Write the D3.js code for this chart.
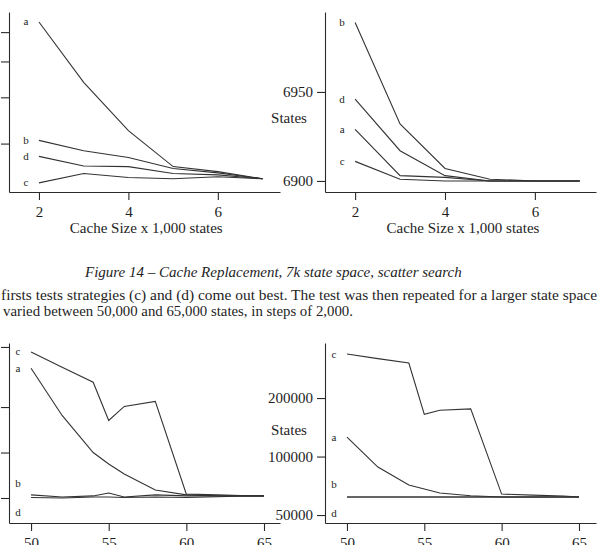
<!DOCTYPE html>
<html>
<head>
<meta charset="utf-8">
<script src="https://cdn.jsdelivr.net/npm/d3@7"></script>
<style>
  body { margin: 0; background: #fff; }
  svg text { font-family: "Liberation Serif", "Times New Roman", serif; fill: #1e1e1e; }
</style>
</head>
<body>
<script>
// x values
var cacheSizes = [2, 3, 4, 5, 6, 7],          // x 1,000 states
    stateSizes = [50, 52, 54, 55, 56, 58, 60, 62, 64, 65];  // x 1,000 states

var strategyKeys = ["a", "b", "c", "d"];

// Figure 14 left (log axis, labels cut off in the scan)
var smallLeftA = [63900, 43900, 32500, 26000, 25200, 24100],
    smallLeftB = [30600, 28700, 27500, 25700, 25000, 24100],
    smallLeftC = [23500, 24900, 24300, 24100, 24400, 24100],
    smallLeftD = [27700, 26100, 26000, 24900, 24700, 24100],
    smallLeftTicks = [30000, 40000, 50000, 60000];

// Figure 14 right: States
var smallRightA = [6929, 6903, 6902, 6900, 6900, 6900],
    smallRightB = [6989, 6932, 6907, 6901, 6900, 6900],
    smallRightC = [6911, 6901, 6900, 6900, 6900, 6900],
    smallRightD = [6946, 6917, 6903, 6900, 6900, 6900],
    smallRightTicks = [6900, 6950];

// larger state space, left (log axis)
var bigLeftA = [361000, 176000, 100000, 84000, 72000, 56500, 52400, 51600, 51600, 51600],
    bigLeftB = [52400, 50800, 51600, 53900, 50800, 52400, 51600, 51600, 51600, 51600],
    bigLeftC = [463000, 367000, 292000, 163000, 202000, 218000, 53000, 52500, 51600, 51600],
    bigLeftD = [50400, 50000, 50800, 50800, 50400, 50800, 50400, 51000, 51600, 51600],
    bigLeftTicks = [50000, 100000, 200000, 500000];

// larger state space, right: States (log axis)
var bigRightA = [126000, 88300, 71300, 68000, 64900, 62800, 61900, 61900, 61900, 61900],
    bigRightB = [61900, 61900, 61900, 61900, 61900, 61900, 61900, 61900, 61900, 61900],
    bigRightC = [337000, 319000, 303000, 165000, 173000, 176000, 64100, 63300, 62600, 61900],
    bigRightD = [61900, 61900, 61900, 61900, 61900, 61900, 61900, 61900, 61900, 61900],
    bigRightTicks = [50000, 100000, 200000];

var smallXTicks = [2, 4, 6],
    bigXTicks = [50, 55, 60, 65];

var captionText = "Figure 14 \u2013 Cache Replacement, 7k state space, scatter search",
    bodyLines = ["firsts tests strategies (c) and (d) come out best. The test was then repeated for a larger state space",
                 "varied between 50,000 and 65,000 states, in steps of 2,000."];

var W = 601, H = 545;
var svg = d3.select("body").append("svg").attr("width", W).attr("height", H);

function drawPanel(cfg) {
  var x = d3.scaleLinear().domain(cfg.xDomain).range([cfg.x0, cfg.x1]);
  var y = (cfg.log ? d3.scaleLog() : d3.scaleLinear()).domain(cfg.yDomain).range([cfg.y1, cfg.y0]);
  var g = svg.append("g");

  var xa = g.append("g").attr("transform", "translate(0," + cfg.y1 + ")")
    .call(d3.axisBottom(x).tickValues(cfg.xTicks).tickSize(8).tickSizeOuter(0).tickPadding(6).tickFormat(d3.format("d")));
  var ya = g.append("g").attr("transform", "translate(" + cfg.x0 + ",0)")
    .call(d3.axisLeft(y).tickValues(cfg.yTicks).tickSize(8).tickSizeOuter(0).tickPadding(4)
      .tickFormat(cfg.yLabels ? d3.format("d") : ""));
  [xa, ya].forEach(function(a) {
    a.attr("font-size", 15);
    a.selectAll("path, line").attr("stroke", "#2a2a2a").attr("stroke-width", 1.1);
  });

  var line = d3.line()
    .x(function(d, i) { return x(cfg.xs[i]); })
    .y(function(d) { return y(d); });

  g.selectAll(".series")
    .data(cfg.series)
    .enter().append("path")
      .attr("fill", "none")
      .attr("stroke", "#333")
      .attr("stroke-width", 1.1)
      .attr("d", function(d) { return line(d.values); });

  g.selectAll(".lab")
    .data(cfg.series)
    .enter().append("text")
      .attr("text-anchor", "middle")
      .attr("font-size", 11)
      .attr("x", x(cfg.xs[0]) - 13)
      .attr("y", function(d) { return y(d.labelAt) + 3.5; })
      .text(function(d) { return d.key; });

  if (cfg.xTitle) {
    g.append("text").attr("text-anchor", "middle").attr("font-size", 15)
      .attr("x", x(4.4)).attr("y", cfg.y1 + 41).text(cfg.xTitle);
  }
  if (cfg.yTitle) {
    g.append("text").attr("text-anchor", "middle").attr("font-size", 15)
      .attr("x", cfg.x0 - 36).attr("y", cfg.yTitleY).text(cfg.yTitle);
  }
}

function makeSeries(vals, labelAt) {
  return strategyKeys.map(function(k, i) {
    return {key: k, values: vals[i], labelAt: labelAt ? labelAt[i] : vals[i][0]};
  });
}

drawPanel({
  x0: 9, x1: 280, y0: 12, y1: 192, xDomain: [1.33, 7.39], yDomain: [22200, 68000], log: true,
  xs: cacheSizes, xTicks: smallXTicks, yTicks: smallLeftTicks, yLabels: false,
  series: makeSeries([smallLeftA, smallLeftB, smallLeftC, smallLeftD]),
  xTitle: "Cache Size x 1,000 states"
});

drawPanel({
  x0: 325, x1: 596, y0: 12, y1: 192, xDomain: [1.33, 7.36], yDomain: [6893.8, 6994.9], log: false,
  xs: cacheSizes, xTicks: smallXTicks, yTicks: smallRightTicks, yLabels: true,
  series: makeSeries([smallRightA, smallRightB, smallRightC, smallRightD]),
  xTitle: "Cache Size x 1,000 states", yTitle: "States", yTitleY: 123
});

drawPanel({
  x0: 9, x1: 280, y0: 343, y1: 523, xDomain: [48.58, 66.03], yDomain: [34150, 531000], log: true,
  xs: stateSizes, xTicks: bigXTicks, yTicks: bigLeftTicks, yLabels: false,
  series: makeSeries([bigLeftA, bigLeftB, bigLeftC, bigLeftD], [361000, 61900, 463000, 39800])
});

drawPanel({
  x0: 325, x1: 596, y0: 343, y1: 523, xDomain: [48.58, 66.1], yDomain: [45500, 384000], log: true,
  xs: stateSizes, xTicks: bigXTicks, yTicks: bigRightTicks, yLabels: true,
  series: makeSeries([bigRightA, bigRightB, bigRightC, bigRightD], [126000, 72200, 337000, 51200]),
  yTitle: "States", yTitleY: 435
});

svg.append("text")
  .attr("x", 85).attr("y", 277)
  .attr("font-size", 15).attr("font-style", "italic")
  .text(captionText);

var bodyWidths = [596, 350];
svg.selectAll(".body")
  .data(bodyLines)
  .enter().append("text")
    .attr("x", function(d, i) { return i ? 3 : 1; })
    .attr("y", function(d, i) { return 300 + i * 16; })
    .attr("font-size", 15.5)
    .attr("textLength", function(d, i) { return bodyWidths[i]; })
    .attr("lengthAdjust", "spacingAndGlyphs")
    .text(function(d) { return d; });
</script>
</body>
</html>
